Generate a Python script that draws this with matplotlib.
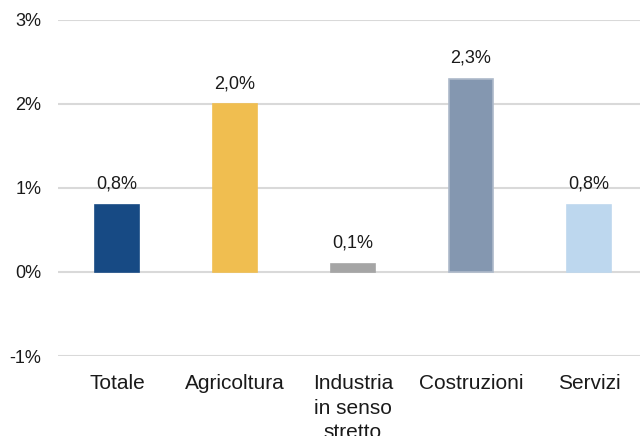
import matplotlib

matplotlib.use("Agg")
import matplotlib.pyplot as plt  # noqa: E402
from matplotlib.ticker import FuncFormatter  # noqa: E402

categories = ["Totale", "Agricoltura", "Industria\nin senso\nstretto", "Costruzioni", "Servizi"]
values = [0.8, 2.0, 0.1, 2.3, 0.8]
colors = ["#174A84", "#F0BE50", "#A5A5A5", "#8497B0", "#BDD7EE"]
edges = ["#174A84", "#F0BE50", "#A5A5A5", "#ADB9CA", "#BDD7EE"]
y_ticks = [-1, 0, 1, 2, 3]

plt.rcParams["font.family"] = ["Liberation Sans", "DejaVu Sans"]

fig = plt.figure(figsize=(6.4, 4.36), dpi=100)
ax = fig.add_axes([58 / 640, 1 - 356 / 436, 590 / 640, 336 / 436])

x = range(len(categories))
ax.bar(x, values, width=0.38, color=colors, edgecolor=edges, linewidth=1.2, zorder=3)

for xi, v in zip(x, values):
    ax.annotate(f"{v:.1f}%".replace(".", ","), (xi, v), xytext=(0, 11.5),
                textcoords="offset points", ha="center", va="baseline",
                fontsize=13, color="#1a1a1a")

ax.set_xlim(-0.5, 4.5)
ax.set_ylim(-1, 3)
ax.set_yticks(y_ticks)
ax.yaxis.set_major_formatter(FuncFormatter(lambda v, _: f"{v:.0f}%"))
ax.grid(axis="y", color="#D9D9D9", linewidth=1.5, zorder=0)
ax.set_xticks(list(x))
ax.set_xticklabels(categories, fontsize=15, color="#1a1a1a", linespacing=1.38)
ax.tick_params(axis="x", length=0, pad=13)
ax.tick_params(axis="y", length=0, pad=12, labelsize=13, labelcolor="#1a1a1a")
for s in ax.spines.values():
    s.set_visible(False)

fig.savefig("out.png", dpi=100)
